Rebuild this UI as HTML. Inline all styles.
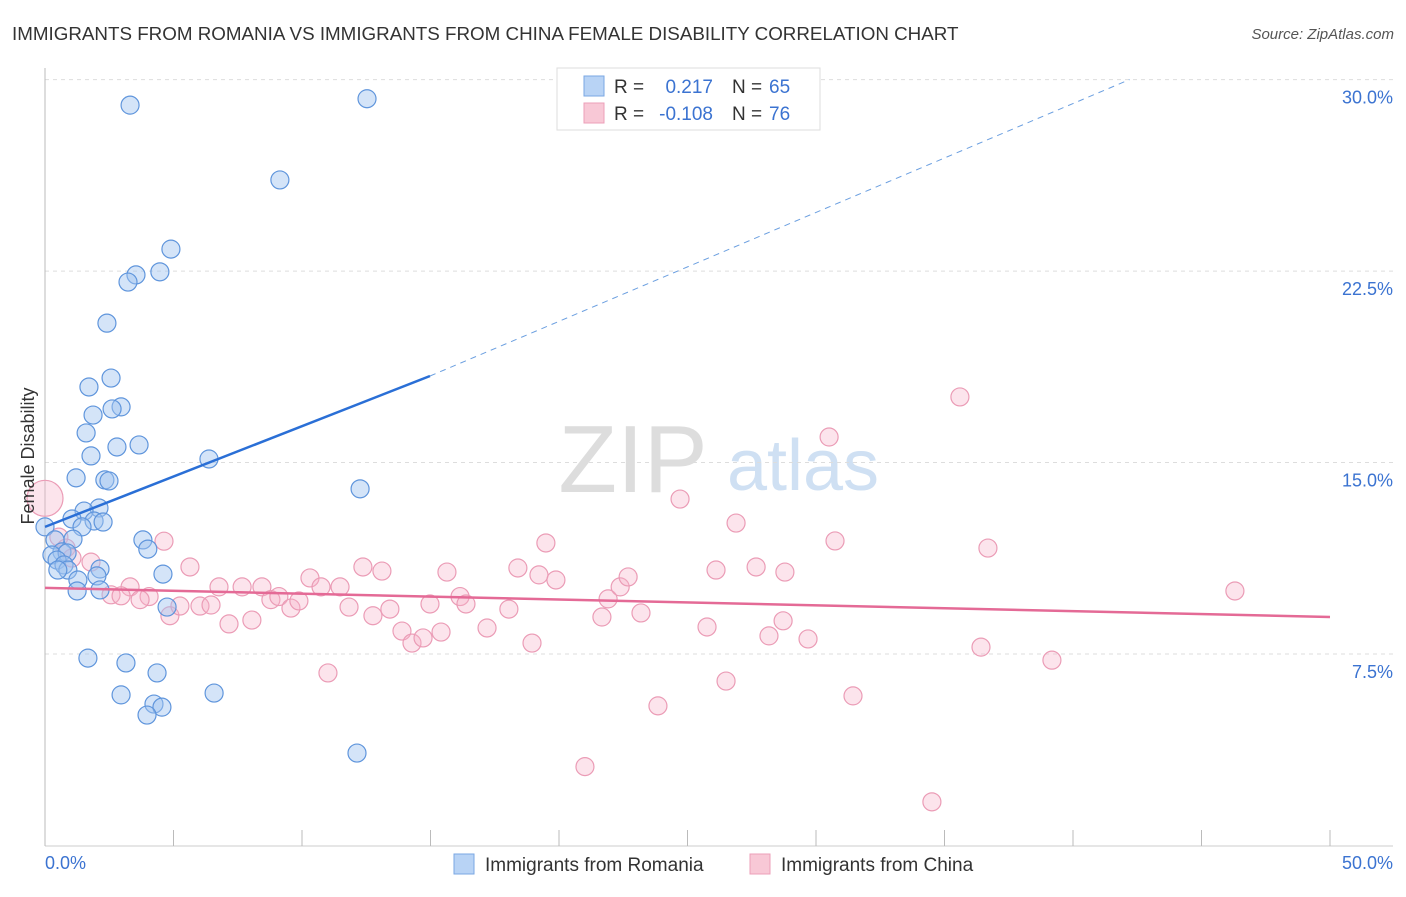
<!DOCTYPE html>
<html><head><meta charset="utf-8"><style>
body{margin:0;background:#fff;font-family:"Liberation Sans",sans-serif;}
svg text{font-family:"Liberation Sans",sans-serif;}
</style></head><body>
<svg width="1406" height="892" viewBox="0 0 1406 892">
<text x="12" y="40" font-size="18.8" fill="#333">IMMIGRANTS FROM ROMANIA VS IMMIGRANTS FROM CHINA FEMALE DISABILITY CORRELATION CHART</text>
<text x="1394" y="39" font-size="15" fill="#555" font-style="italic" text-anchor="end">Source: ZipAtlas.com</text>
<g>
<text x="633" y="492" font-size="96" fill="#ddd" font-family="Liberation Serif,serif" text-anchor="middle">ZIP</text>
<text x="803" y="490" font-size="72" fill="#cfe0f3" text-anchor="middle">atlas</text>
</g>
<g id="grid"></g>
<g id="axes"></g>
<g id="pts"></g>
<g id="trend"></g>
<text transform="translate(34,456) rotate(-90)" font-size="18" fill="#333" text-anchor="middle">Female Disability</text>
<text x="45" y="869" font-size="18" fill="#3b73d1">0.0%</text>
<text x="1393" y="869" font-size="18" fill="#3b73d1" text-anchor="end">50.0%</text>
<g>
<rect x="557" y="68" width="263" height="62" fill="#fff" stroke="#ddd"/>
<rect x="584" y="76" width="20" height="20" fill="#b8d3f5" stroke="#7aa7e3"/>
<rect x="584" y="103" width="20" height="20" fill="#f8c8d6" stroke="#ec9fb8"/>
<text x="614" y="93" font-size="19" fill="#333">R =</text>
<text x="713" y="93" font-size="19" fill="#3b73d1" text-anchor="end">0.217</text>
<text x="732" y="93" font-size="19" fill="#333">N =</text>
<text x="769" y="93" font-size="19" fill="#3b73d1">65</text>
<text x="614" y="120" font-size="19" fill="#333">R =</text>
<text x="713" y="120" font-size="19" fill="#3b73d1" text-anchor="end">-0.108</text>
<text x="732" y="120" font-size="19" fill="#333">N =</text>
<text x="769" y="120" font-size="19" fill="#3b73d1">76</text>
</g>
<g>
<rect x="454" y="854" width="20" height="20" fill="#b8d3f5" stroke="#7aa7e3"/>
<text x="485" y="871" font-size="19" fill="#333">Immigrants from Romania</text>
<rect x="750" y="854" width="20" height="20" fill="#f8c8d6" stroke="#ec9fb8"/>
<text x="781" y="871" font-size="19" fill="#333">Immigrants from China</text>
</g>
</svg>
<script>
const yTicks=[7.5,15,22.5,30];
const yTickLabels=["7.5%","15.0%","22.5%","30.0%"];
const xTicks=[0,5,10,15,20,25,30,35,40,45,50];
const romaniaX=[3.31,12.53,9.14,4.9,4.47,3.54,3.23,2.41,2.57,1.71,2.96,2.61,1.87,1.6,3.66,2.8,1.79,6.38,1.21,2.33,2.49,12.26,2.1,1.52,1.05,1.91,2.26,1.44,0,3.81,0.39,1.09,4.0,0.66,0.27,0.86,0.47,0.74,0.89,0.5,2.14,1.28,2.02,4.59,1.25,2.14,4.75,1.67,3.15,4.36,2.96,6.58,4.24,4.55,3.97,12.14];
const romaniaY=[29.0,29.25,26.07,23.36,22.47,22.35,22.07,20.46,18.31,17.96,17.18,17.1,16.86,16.16,15.69,15.61,15.26,15.14,14.4,14.32,14.28,13.97,13.22,13.1,12.79,12.71,12.67,12.48,12.48,11.97,11.97,12.0,11.61,11.5,11.38,11.46,11.18,10.99,10.79,10.79,10.83,10.4,10.56,10.63,9.97,10.01,9.34,7.34,7.15,6.76,5.9,5.97,5.54,5.42,5.11,3.62];
const chinaX=[0,0.54,0.82,1.79,1.05,4.63,5.64,3.31,2.57,2.96,4.05,3.7,4.86,5.25,6.03,6.46,6.77,7.16,7.67,8.05,8.44,8.79,9.1,9.57,9.88,10.31,10.74,11.01,11.48,11.83,12.37,12.76,13.11,13.42,13.89,14.28,14.71,14.98,15.41,15.64,16.15,16.38,17.2,18.05,18.4,18.95,19.22,19.49,19.88,21.01,21.67,21.91,22.38,22.69,23.19,23.85,24.71,25.76,26.11,26.5,26.89,27.67,28.17,28.72,28.79,29.69,30.51,30.74,31.44,34.51,35.6,36.42,36.69,39.18,46.3];
const chinaY=[13.6,12.08,11.65,11.1,11.26,11.92,10.91,10.13,9.82,9.78,9.75,9.63,9.0,9.38,9.38,9.42,10.13,8.68,10.13,8.83,10.13,9.63,9.75,9.3,9.58,10.48,10.13,6.76,10.13,9.34,10.91,9.0,10.75,9.26,8.4,7.93,8.13,9.46,8.36,10.71,9.75,9.46,8.52,9.26,10.87,7.93,10.6,11.85,10.4,3.09,8.95,9.66,10.13,10.52,9.11,5.47,13.57,8.56,10.79,6.44,12.63,10.91,8.21,8.8,10.71,8.09,16.0,11.93,5.86,1.71,17.57,7.77,11.65,7.26,9.97];
const romaniaTrend=[[0,12.48],[14.98,18.39]];
const romaniaTrendExt=[[14.98,18.39],[42.2,30.0]];
const chinaTrend=[[0,10.09],[50,8.95]];
const NS="http://www.w3.org/2000/svg";
const X=v=>45+v*25.7, Y=v=>845.5-v*25.53;
function mk(tag,attrs,parent){const e=document.createElementNS(NS,tag);for(const k in attrs)e.setAttribute(k,attrs[k]);document.getElementById(parent).appendChild(e);return e;}
yTicks.forEach((t,i)=>{
 const g=mk('line',{x1:45,x2:1393,y1:Y(t),y2:Y(t),stroke:'#ddd','stroke-dasharray':'4,4'},'grid');
 
 
 const l=mk('text',{x:1393,y:Y(t)+24,'font-size':18,fill:'#3b73d1','text-anchor':'end'},'grid');
 l.textContent=yTickLabels[i];
 
 
});
const ax=mk('line',{x1:45,x2:45,y1:68,y2:846,stroke:'#bbb'},'axes');


const bx=mk('line',{x1:45,x2:1393,y1:846,y2:846,stroke:'#ccc'},'axes');


xTicks.forEach(t=>{
 const tk=mk('line',{x1:X(t),x2:X(t),y1:830,y2:846,stroke:'#bbb'},'axes');
 
 
});
chinaX.forEach((x,i)=>{
 const c=mk('circle',{cx:X(x),cy:Y(chinaY[i]),r:i===0?18:9,fill:'rgba(246,178,200,0.35)',stroke:'#eb9cb6','stroke-width':1.2},'pts');
 
 
});
romaniaX.forEach((x,i)=>{
 const c=mk('circle',{cx:X(x),cy:Y(romaniaY[i]),r:9,fill:'rgba(160,196,240,0.45)',stroke:'#5f95dc','stroke-width':1.2},'pts');
 
 
});
const t1=mk('line',{x1:X(romaniaTrend[0][0]),y1:Y(romaniaTrend[0][1]),x2:X(romaniaTrend[1][0]),y2:Y(romaniaTrend[1][1]),stroke:'#2a6fd6','stroke-width':2.5},'trend');


const t2=mk('line',{x1:X(romaniaTrendExt[0][0]),y1:Y(romaniaTrendExt[0][1]),x2:X(romaniaTrendExt[1][0]),y2:Y(romaniaTrendExt[1][1]),stroke:'#6b9fe0','stroke-width':1,'stroke-dasharray':'6,5'},'trend');


const t3=mk('line',{x1:X(chinaTrend[0][0]),y1:Y(chinaTrend[0][1]),x2:X(chinaTrend[1][0]),y2:Y(chinaTrend[1][1]),stroke:'#e46a96','stroke-width':2.5},'trend');


</script>
</body></html>
